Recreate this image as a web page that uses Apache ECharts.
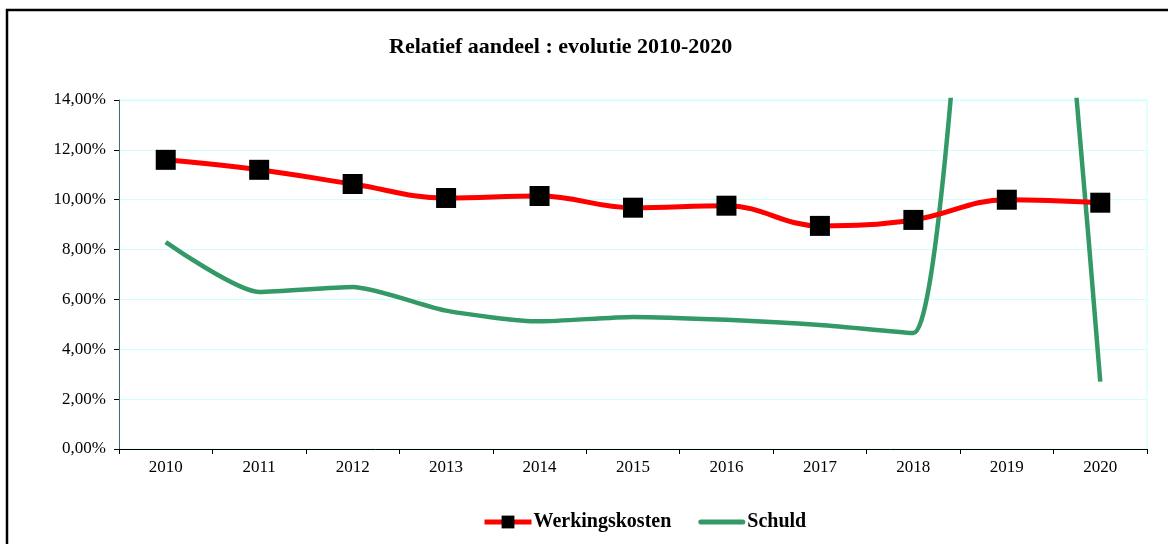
<!DOCTYPE html>
<html>
<head>
<meta charset="utf-8">
<script src="https://cdn.jsdelivr.net/npm/echarts@6/dist/echarts.min.js"></script>
<style>
  html, body { margin: 0; padding: 0; background: #fff; }
  #chart { width: 1168px; height: 544px; }
</style>
</head>
<body>
<div id="chart"></div>
<script>
// data (percent)
const years = ['2010', '2011', '2012', '2013', '2014', '2015', '2016', '2017', '2018', '2019', '2020'];
const werkingskosten = [11.6, 11.2, 10.63, 10.07, 10.15, 9.68, 9.76, 8.95, 9.19, 10.0, 9.88];
const schuld = [8.3, 6.3, 6.5, 5.55, 5.12, 5.3, 5.18, 4.97, 4.65, 39, 2.7];

const serif = '"Liberation Serif", "DejaVu Serif", serif';

const myChart = echarts.init(document.getElementById('chart'));
const options = {
  animation: false,
  backgroundColor: '#fff',
  title: {
    text: 'Relatief aandeel : evolutie 2010-2020',
    left: 384,
    top: 31,
    textStyle: {
      fontFamily: serif,
      fontSize: 22,
      fontWeight: 'bold',
      color: '#000',
    },
  },
  graphic: [
    {
      type: 'rect',
      shape: { x: 7, y: 10, width: 1200, height: 600 },
      style: { fill: 'none', stroke: '#000', lineWidth: 2.5 },
      silent: true,
    },
  ],
  legend: {
    bottom: 7,
    left: 477,
    itemWidth: 47,
    itemHeight: 16,
    itemGap: 27,
    symbolKeepAspect: true,
    lineStyle: { width: 5 },
    textStyle: {
      fontFamily: serif,
      fontSize: 20,
      fontWeight: 'bold',
      color: '#000',
      padding: [0, 0, 0, -3],
    },
    data: [
      { name: 'Werkingskosten' },
      {
        name: 'Schuld',
        icon: 'path://M2.5,0 L44.5,0 A2.5,2.5 0 0 1 44.5,5 L2.5,5 A2.5,2.5 0 0 1 2.5,0 Z',
        itemStyle: { color: '#339966' },
      },
    ],
  },
  grid: {
    left: 119,
    right: 21,
    top: 100,
    bottom: 95,
    show: true,
    borderColor: '#ccffff',
    borderWidth: 1,
  },
  xAxis: {
    type: 'category',
    data: years,
    boundaryGap: true,
    axisLine: { lineStyle: { color: '#000', width: 1 } },
    axisTick: { show: true, length: 5, lineStyle: { color: '#000' } },
    axisLabel: {
      fontFamily: serif,
      fontSize: 17,
      color: '#000',
      margin: 10,
    },
  },
  yAxis: {
    type: 'value',
    min: 0,
    max: 14,
    interval: 2,
    axisLine: { show: true, lineStyle: { color: '#4d6b6b', width: 1 } },
    axisTick: { show: true, length: 5, lineStyle: { color: '#000' } },
    splitLine: { lineStyle: { color: '#ccffff', width: 1 } },
    axisLabel: {
      fontFamily: serif,
      fontSize: 17,
      color: '#000',
      margin: 13,
      formatter: (v) => v.toFixed(2).replace('.', ',') + '%',
    },
  },
  series: [
    {
      name: 'Werkingskosten',
      type: 'line',
      data: werkingskosten,
      smooth: 0.4,
      symbol: 'rect',
      symbolSize: 20,
      itemStyle: { color: '#000' },
      lineStyle: { color: '#ff0000', width: 5 },
      z: 3,
    },
    {
      name: 'Schuld',
      type: 'line',
      data: schuld,
      smooth: 0.22,
      symbol: 'none',
      itemStyle: { color: '#339966' },
      lineStyle: { color: '#339966', width: 4.5 },
      clip: true,
      z: 2,
    },
  ],
};
myChart.setOption(options);
</script>
</body>
</html>
